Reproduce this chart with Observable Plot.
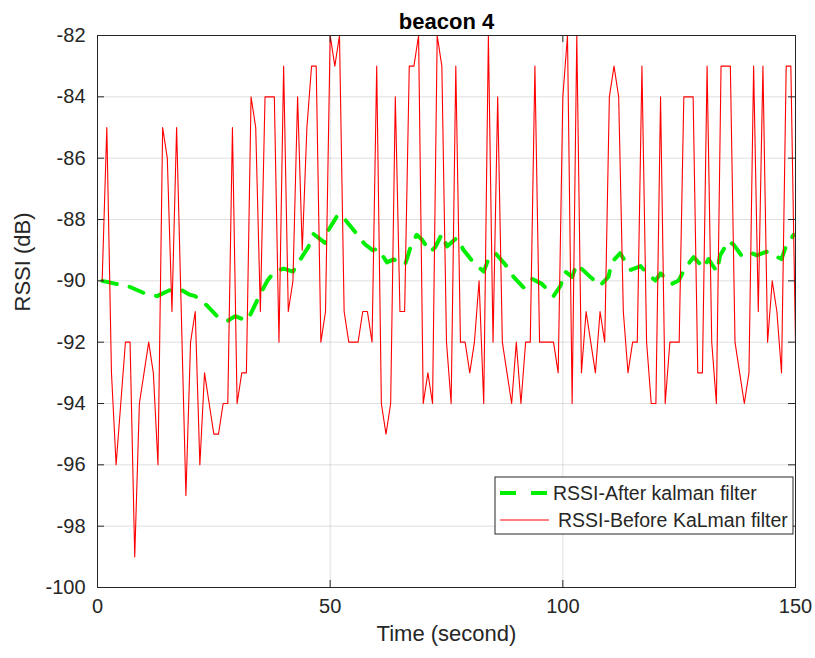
<!DOCTYPE html>
<html>
<head>
<meta charset="utf-8">
<script src="https://cdn.jsdelivr.net/npm/d3@7"></script>
<script src="https://cdn.jsdelivr.net/npm/@observablehq/plot@0.6"></script>
<style>
  body { margin: 0; background: #ffffff; }
  #wrap { position: relative; width: 815px; height: 658px; font-family: "Liberation Sans", Arial, Helvetica, sans-serif; }
  #legend { position: absolute; left: 0; top: 0; pointer-events: none; }
</style>
</head>
<body>
<div id="wrap"></div>
<script>
// ---- data ----
const titleText = "beacon 4";
const xLabel = "Time (second)";
const yLabel = "RSSI (dB)";
const seriesNames = ["RSSI-After kalman filter", "RSSI-Before KaLman filter"];

const xTicks = [0, 50, 100, 150];
const yTicks = [-100, -98, -96, -94, -92, -90, -88, -86, -84, -82];

// raw RSSI, one sample per second, t = 1..150
const rawRSSI = [
  -90, -85, -93, -96, -94, -92, -92, -99, -94, -93,
  -92, -93, -96, -85, -86, -91, -85, -91, -97, -92,
  -91, -96, -93, -94, -95, -95, -94, -94, -85, -94,
  -93, -93, -84, -85, -91, -84, -84, -84, -92, -83,
  -91, -90, -84, -89, -85, -83, -83, -92, -91, -82,
  -83, -82, -91, -92, -92, -92, -91, -91, -92, -83,
  -94, -95, -94, -84, -91, -91, -83, -83, -82, -94,
  -93, -94, -82, -83, -92, -94, -83, -92, -92, -93,
  -92, -90, -94, -82, -92, -84, -92, -93, -94, -92,
  -94, -92, -92, -83, -92, -92, -92, -92, -93, -84,
  -82, -94, -82, -93, -91, -92, -93, -91, -92, -84,
  -83, -84, -91, -93, -92, -92, -83, -92, -94, -94,
  -84, -94, -92, -92, -92, -84, -84, -84, -93, -93,
  -83, -92, -94, -83, -83, -83, -92, -93, -94, -93,
  -83, -91, -83, -92, -90, -91, -93, -83, -83, -92
];

// Kalman filtered RSSI, read at points along the dashed curve
const kalmanTime = [
  1, 4, 7, 10, 12.8, 15.6, 18, 19.8, 21, 23.5, 26, 28, 29.6, 32, 32.7, 34.9, 36.5, 38, 40, 42,
  43.4, 45.3, 46.4, 48.9, 49.6, 51.7, 53.2, 55.7, 57.4, 59.1, 60.3, 62.2, 63.6, 66.1, 67.2, 68.6,
  69.7, 71.5, 72.6, 74, 75.1, 77.2, 78.7, 80.8, 83, 84, 85.5, 87.6, 89.4, 91.6, 93.3, 95.5,
  98, 99.5, 100.5, 102, 103, 105.9, 108, 109.8, 110.5, 112.3, 114.6, 116.7, 118.1, 119.9,
  121, 123.4, 124.9, 126.3, 128.1, 130.3, 131.3, 133.1, 133.8, 135.6, 136.7, 138.5, 140.6,
  141.7, 143.8, 147, 147.8, 149.6
];
const kalmanRSSI = [
  -90.0, -90.1, -90.2, -90.4, -90.5, -90.3, -90.3, -90.45, -90.5, -90.8, -91.2, -91.3, -91.15, -91.3, -91.15, -90.45, -90.0, -89.7, -89.6, -89.7,
  -89.35, -88.9, -88.47, -88.76, -88.36, -87.83, -88.0, -88.47, -88.8, -89.0, -88.95, -89.4, -89.3, -89.47, -88.94, -88.5,
  -88.65, -89.06, -88.9, -88.47, -88.88, -88.6, -89.0, -89.4, -89.7, -89.3, -89.1, -89.46, -89.87, -90.22, -89.93, -90.1,
  -90.5, -90.16, -89.7, -89.87, -89.46, -89.87, -90.16, -89.87, -89.4, -89.1, -89.64, -89.52, -89.76, -89.99,
  -89.76, -90.1, -89.99, -89.58, -89.23, -89.58, -89.29, -89.7, -89.17, -88.7, -88.82, -89.2, -89.1,
  -89.17, -89.05, -89.29, -88.94, -88.5
];

// ---- tables built from the arrays ----
const raw = rawRSSI.map((v, i) => ({t: i + 1, v}));
const kal = kalmanTime.map((t, i) => ({t, v: kalmanRSSI[i]}));

const FONT = "'Liberation Sans', Arial, Helvetica, sans-serif";
const INK = "#262626";
const W = 815, H = 658, ML = 97, MR = 20, MT = 35, MB = 71;
const plotW = W - ML - MR, plotH = H - MT - MB;
const TICK = 7;

const chart = Plot.plot({
  width: W,
  height: H,
  marginLeft: ML,
  marginRight: MR,
  marginTop: MT,
  marginBottom: MB,
  style: {fontFamily: FONT, background: "#ffffff", color: INK, overflow: "visible"},
  x: {domain: [0, 150]},
  y: {domain: [-100, -82]},
  marks: [
    Plot.gridX(xTicks, {stroke: "#000", strokeOpacity: 0.13}),
    Plot.gridY(yTicks, {stroke: "#000", strokeOpacity: 0.13}),
    Plot.line(kal, {x: "t", y: "v", stroke: "#00ee00", strokeWidth: 4, strokeDasharray: "15,13"}),
    Plot.line(raw, {x: "t", y: "v", stroke: "#ff0000", strokeWidth: 1.1}),
    // inward ticks on all four sides
    Plot.tickY(yTicks, {y: d => d, insetRight: plotW - TICK, stroke: INK}),
    Plot.tickY(yTicks, {y: d => d, insetLeft: plotW - TICK, stroke: INK}),
    Plot.tickX(xTicks, {x: d => d, insetTop: plotH - TICK, stroke: INK}),
    Plot.tickX(xTicks, {x: d => d, insetBottom: plotH - TICK, stroke: INK}),
    Plot.frame({stroke: INK, strokeWidth: 1}),
    Plot.axisY({ticks: yTicks, tickSize: 0, tickPadding: 12, tickFormat: d => String(d), fontSize: 20, label: null, fill: INK}),
    Plot.axisX({ticks: xTicks, tickSize: 0, tickPadding: 11, tickFormat: d => String(d), fontSize: 20, label: null, fill: INK}),
    Plot.text([xLabel], {frameAnchor: "bottom", dy: 53, fontSize: 22, fill: INK}),
    Plot.text([yLabel], {frameAnchor: "left", dx: -75, rotate: -90, fontSize: 22, fill: INK}),
    Plot.text([titleText], {frameAnchor: "top", dy: -22, fontSize: 22, fontWeight: "bold", fill: "#000"})
  ]
});

const wrap = document.getElementById("wrap");
wrap.appendChild(chart);

// legend overlay inside the axes, like the original
const lg = d3.select(wrap).append("svg")
  .attr("id", "legend")
  .attr("width", W).attr("height", H)
  .style("font-family", FONT);
const box = {x: 495, y: 477, w: 298, h: 57};
lg.append("rect").attr("x", box.x).attr("y", box.y).attr("width", box.w).attr("height", box.h)
  .attr("fill", "#fff").attr("stroke", INK).attr("stroke-width", 1);
const rows = [
  {name: seriesNames[0], stroke: "#00ee00", width: 4, dash: "16,15", tx: 553},
  {name: seriesNames[1], stroke: "#ff0000", width: 1, dash: null, tx: 558}
];
rows.forEach((r, i) => {
  const cy = box.y + 16 + i * 27;
  const l = lg.append("line").attr("x1", box.x + 5).attr("x2", box.x + 54)
    .attr("y1", cy).attr("y2", cy).attr("stroke", r.stroke).attr("stroke-width", r.width);
  if (r.dash) l.attr("stroke-dasharray", r.dash);
  lg.append("text").attr("x", r.tx).attr("y", cy).attr("dy", "0.35em")
    .attr("font-size", 19.5).attr("fill", INK).text(r.name);
});
</script>
</body>
</html>
